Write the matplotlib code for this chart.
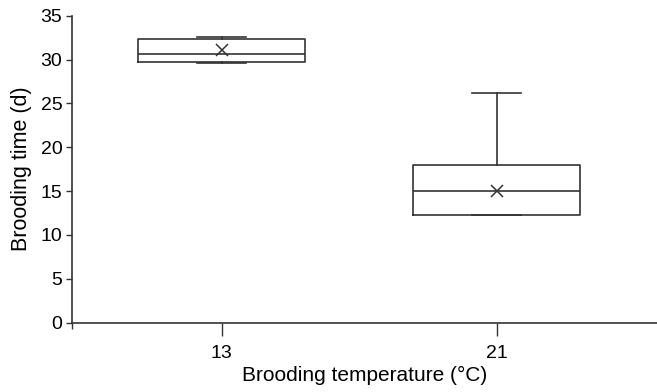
import matplotlib
matplotlib.use("Agg")
import matplotlib.pyplot as plt

# Datos (temperatura de incubación vs. tiempo de incubación)
temperaturas = ["13", "21"]
q1 = [29.76, 12.28]
mediana = [30.6, 15.05]
q3 = [32.31, 17.98]
bigote_inf = [29.61, 12.28]
bigote_sup = [32.61, 26.23]
media = [31.05, 15.05]

plt.rcParams["font.family"] = ["Liberation Sans", "DejaVu Sans"]

fig = plt.figure(figsize=(6.57, 3.92), dpi=100)
ax = fig.add_axes([0.1096, 0.177, 0.8904, 0.783])

color = "#333333"
stats = []
for i, t in enumerate(temperaturas):
    stats.append(dict(label=t, q1=q1[i], med=mediana[i], q3=q3[i],
                      whislo=bigote_inf[i], whishi=bigote_sup[i],
                      mean=media[i], fliers=[]))

pos = [1, 2]
ax.bxp(stats, positions=pos, widths=0.607, capwidths=0.18, showmeans=True,
       boxprops=dict(color=color, linewidth=1.2),
       medianprops=dict(color=color, linewidth=1.2),
       whiskerprops=dict(color=color, linewidth=1.2),
       capprops=dict(color=color, linewidth=1.2),
       meanprops=dict(marker="x", markeredgecolor=color, markersize=9, markeredgewidth=1.1))

ax.set_xlim(0.456, 2.583)
ax.set_ylim(0, 35)
ax.set_yticks(range(0, 36, 5))
ax.set_xticks(pos)
ax.set_xticklabels(temperaturas)
ax.set_xticks([0.456], minor=True)

ax.spines["top"].set_visible(False)
ax.spines["right"].set_visible(False)
for s in ["left", "bottom"]:
    ax.spines[s].set_color(color)
    ax.spines[s].set_linewidth(1.2)

ax.tick_params(axis="y", length=4, width=1, color=color, labelsize=14, pad=3)
ax.tick_params(axis="x", which="major", length=9, width=1, color=color, labelsize=14, pad=7)
ax.tick_params(axis="x", which="minor", length=4, width=1, color=color)

ax.set_xlabel("Brooding temperature (°C)", fontsize=15, labelpad=3)
ax.set_ylabel("Brooding time (d)", fontsize=15.5, labelpad=6)

fig.savefig("out.png", dpi=100)
